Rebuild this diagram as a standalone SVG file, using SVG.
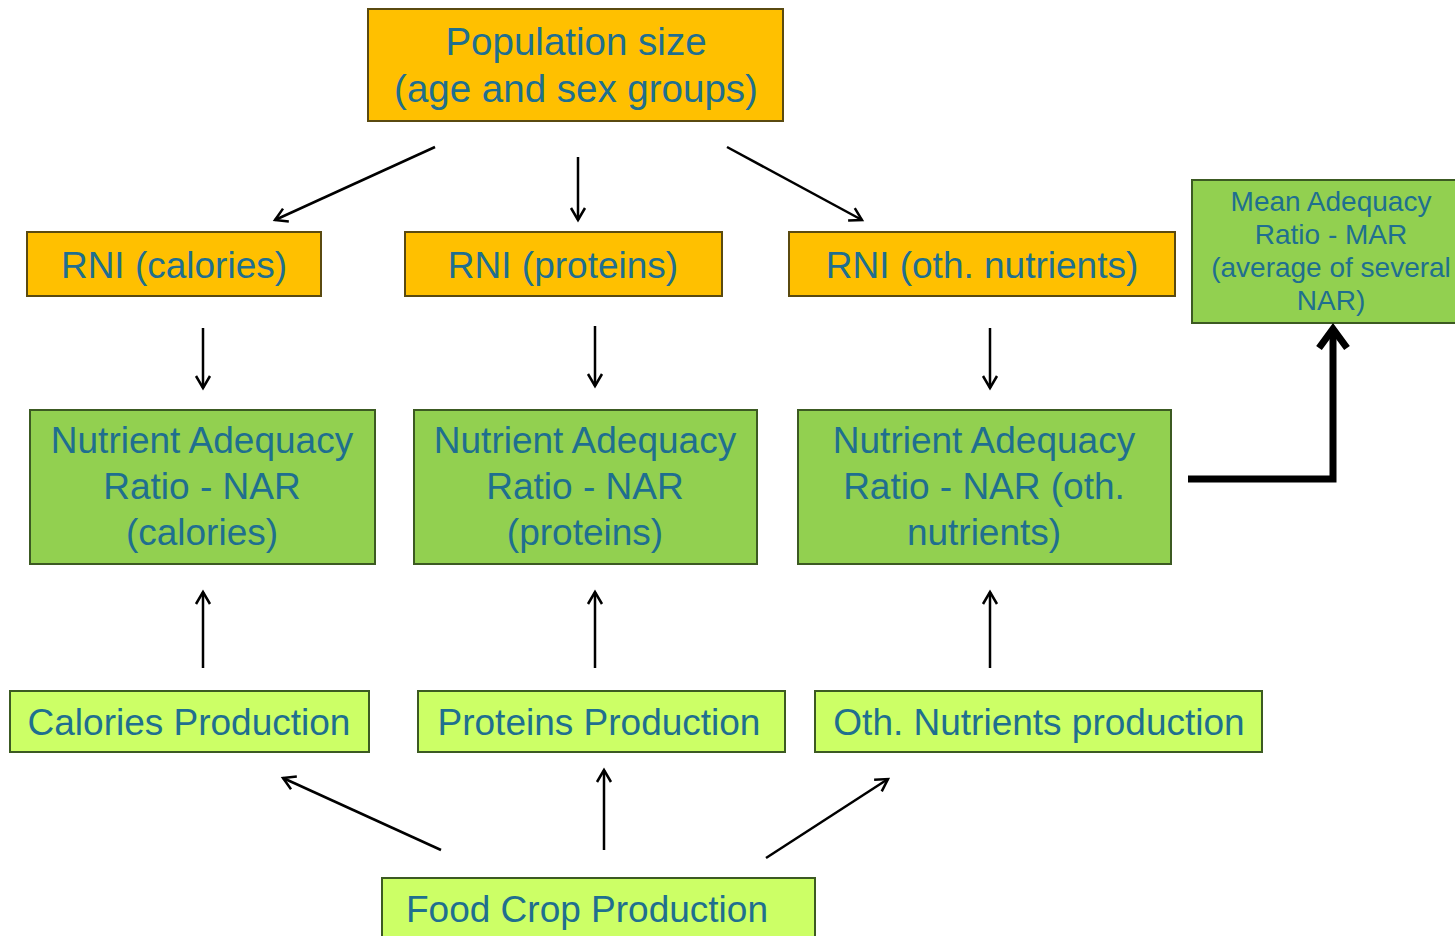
<svg xmlns="http://www.w3.org/2000/svg" width="1455" height="936" viewBox="0 0 1455 936">
  <style>
    .orange { fill: #FFC000; stroke: #5a4a10; stroke-width: 2; }
    .nar { fill: #92D050; stroke: #3c5a22; stroke-width: 2; }
    .prod { fill: #CCFF66; stroke: #3c5a22; stroke-width: 2; }
    .t { font-family: "Liberation Sans", Arial, sans-serif; fill: #1f6f8f; text-anchor: middle; }
    .big { font-size: 38.5px; }
    .mid { font-size: 37px; }
    .small { font-size: 28px; }
    .arrow { stroke: #000; stroke-width: 2.5; fill: none; marker-end: url(#head); }
    .thick { stroke: #000; stroke-width: 7; fill: none; marker-end: url(#headBig); }
  </style>
  <defs>
    <marker id="head" viewBox="0 0 20 20" refX="18" refY="10" markerWidth="20" markerHeight="20" markerUnits="userSpaceOnUse" orient="auto" overflow="visible">
      <path d="M6 3 L18 10 L6 17" fill="none" stroke="#000" stroke-width="2.5"/>
    </marker>
    <marker id="headBig" viewBox="0 0 30 30" refX="27" refY="15" markerWidth="30" markerHeight="30" markerUnits="userSpaceOnUse" orient="auto" overflow="visible">
      <path d="M8 1 L27 15 L8 29" fill="none" stroke="#000" stroke-width="7"/>
    </marker>
  </defs>
  <rect width="1455" height="936" fill="#fff"/>

  <g id="population">
    <rect class="orange" x="368" y="9" width="415" height="112"/>
    <text class="t big" x="576" y="55">Population size</text>
    <text class="t big" x="576" y="102">(age and sex groups)</text>
  </g>

  <g id="rni-calories">
    <rect class="orange" x="27" y="232" width="294" height="64"/>
    <text class="t mid" x="174" y="278">RNI (calories)</text>
  </g>
  <g id="rni-proteins">
    <rect class="orange" x="405" y="232" width="317" height="64"/>
    <text class="t mid" x="563" y="278">RNI (proteins)</text>
  </g>
  <g id="rni-other">
    <rect class="orange" x="789" y="232" width="386" height="64"/>
    <text class="t mid" x="982" y="278">RNI (oth. nutrients)</text>
  </g>

  <g id="mar">
    <rect class="nar" x="1192" y="180" width="270" height="143"/>
    <text class="t small" x="1331" y="211">Mean Adequacy</text>
    <text class="t small" x="1331" y="244">Ratio - MAR</text>
    <text class="t small" x="1331" y="277">(average of several</text>
    <text class="t small" x="1331" y="310">NAR)</text>
  </g>

  <g id="nar-calories">
    <rect class="nar" x="30" y="410" width="345" height="154"/>
    <text class="t mid" x="202" y="453">Nutrient Adequacy</text>
    <text class="t mid" x="202" y="499">Ratio - NAR</text>
    <text class="t mid" x="202" y="545">(calories)</text>
  </g>
  <g id="nar-proteins">
    <rect class="nar" x="414" y="410" width="343" height="154"/>
    <text class="t mid" x="585" y="453">Nutrient Adequacy</text>
    <text class="t mid" x="585" y="499">Ratio - NAR</text>
    <text class="t mid" x="585" y="545">(proteins)</text>
  </g>
  <g id="nar-other">
    <rect class="nar" x="798" y="410" width="373" height="154"/>
    <text class="t mid" x="984" y="453">Nutrient Adequacy</text>
    <text class="t mid" x="984" y="499">Ratio - NAR (oth.</text>
    <text class="t mid" x="984" y="545">nutrients)</text>
  </g>

  <g id="prod-calories">
    <rect class="prod" x="10" y="691" width="359" height="61"/>
    <text class="t mid" x="189" y="735">Calories Production</text>
  </g>
  <g id="prod-proteins">
    <rect class="prod" x="418" y="691" width="367" height="61"/>
    <text class="t mid" x="599" y="735">Proteins Production</text>
  </g>
  <g id="prod-other">
    <rect class="prod" x="815" y="691" width="447" height="61"/>
    <text class="t mid" x="1039" y="735">Oth. Nutrients production</text>
  </g>

  <g id="food-crop">
    <rect class="prod" x="382" y="878" width="433" height="70"/>
    <text class="t mid" x="587" y="922">Food Crop Production</text>
  </g>

  <g id="connectors">
    <line class="arrow" x1="435" y1="147" x2="275" y2="220"/>
    <line class="arrow" x1="578" y1="157" x2="578" y2="220"/>
    <line class="arrow" x1="727" y1="147" x2="862" y2="220"/>
    <line class="arrow" x1="203" y1="328" x2="203" y2="388"/>
    <line class="arrow" x1="595" y1="326" x2="595" y2="386"/>
    <line class="arrow" x1="990" y1="328" x2="990" y2="388"/>
    <line class="arrow" x1="203" y1="668" x2="203" y2="592"/>
    <line class="arrow" x1="595" y1="668" x2="595" y2="592"/>
    <line class="arrow" x1="990" y1="668" x2="990" y2="592"/>
    <line class="arrow" x1="441" y1="850" x2="283" y2="778"/>
    <line class="arrow" x1="604" y1="850" x2="604" y2="770"/>
    <line class="arrow" x1="766" y1="858" x2="888" y2="779"/>
    <path class="thick" d="M1188 479 H1333 V329"/>
  </g>
</svg>
